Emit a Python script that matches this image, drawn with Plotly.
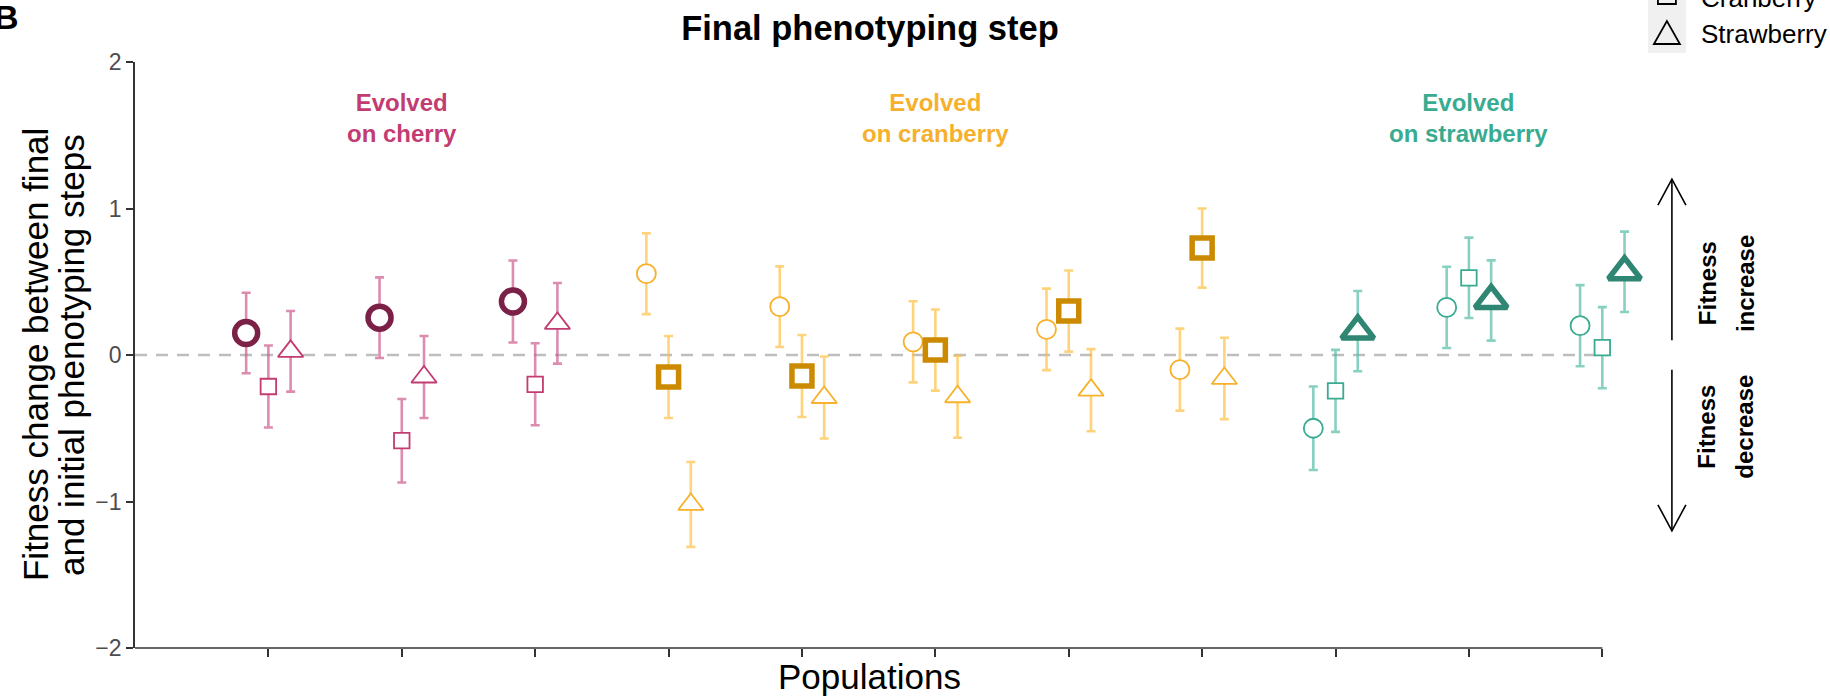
import plotly.graph_objects as go

# ---- data -------------------------------------------------------------
populations = list(range(1, 12))
evolved_on = ["Cherry"] * 3 + ["Cranberry"] * 5 + ["Strawberry"] * 3
hosts = ["Cherry", "Cranberry", "Strawberry"]

cherry_mean = [0.15, 0.255, 0.365, 0.555, 0.33, 0.09, 0.175, -0.10, -0.50, 0.325, 0.20]
cherry_se = [0.275, 0.275, 0.28, 0.276, 0.275, 0.277, 0.278, 0.28, 0.285, 0.277, 0.277]
cranberry_mean = [-0.215, -0.585, -0.20, -0.15, -0.143, 0.034, 0.30, 0.73, -0.245, 0.527, 0.05]
cranberry_se = [0.28, 0.285, 0.28, 0.28, 0.28, 0.277, 0.277, 0.27, 0.28, 0.274, 0.277]
strawberry_mean = [0.025, -0.15, 0.216, -1.02, -0.29, -0.285, -0.24, -0.16, 0.163, 0.372, 0.568]
strawberry_se = [0.275, 0.28, 0.275, 0.29, 0.28, 0.28, 0.28, 0.278, 0.274, 0.274, 0.274]

means = {"Cherry": cherry_mean, "Cranberry": cranberry_mean, "Strawberry": strawberry_mean}
ses = {"Cherry": cherry_se, "Cranberry": cranberry_se, "Strawberry": strawberry_se}

y_ticks = [-2, -1, 0, 1, 2]
group_labels = {"Cherry": "Evolved<br>on cherry",
                "Cranberry": "Evolved<br>on cranberry",
                "Strawberry": "Evolved<br>on strawberry"}
group_centre = {"Cherry": 2, "Cranberry": 6, "Strawberry": 10}

# ---- styling ----------------------------------------------------------
dodge = {"Cherry": -1 / 6, "Cranberry": 0.0, "Strawberry": 1 / 6}
symbol = {"Cherry": "circle", "Cranberry": "square", "Strawberry": "triangle-up"}
thin_size = {"Cherry": 19, "Cranberry": 15.5, "Strawberry": 22}
bold_size = {"Cherry": 23, "Cranberry": 20, "Strawberry": 28}
dark = {"Cherry": "#7B2147", "Cranberry": "#CC8A00", "Strawberry": "#2F8672"}
mid = {"Cherry": "#C23C71", "Cranberry": "#F7B12A", "Strawberry": "#38AB90"}
light = {"Cherry": "rgba(203,87,137,0.68)", "Cranberry": "rgba(255,190,60,0.68)",
         "Strawberry": "rgba(80,185,160,0.68)"}
label_col = {"Cherry": "#C23C71", "Cranberry": "#F6B02C", "Strawberry": "#38AB90"}

FONT = "Liberation Sans, Arial, Helvetica, sans-serif"
W, H = 1830, 697
X_MAX = 11.35
UNIT_X = 133.4
L, T, B = 135, 62, 49
R = W - L - UNIT_X * X_MAX
PW, PH = W - L - R, H - T - B
AXIS_COL = "#333333"


def px_x(px):
    return (px - L) / PW


def px_y(py):
    return (H - B - py) / PH


fig = go.Figure()

# one trace per (evolved group, phenotyping host)
for grp in ["Cherry", "Cranberry", "Strawberry"]:
    idx = [i for i, g in enumerate(evolved_on) if g == grp]
    for host in hosts:
        home = host == grp
        fig.add_trace(go.Scatter(
            x=[populations[i] + dodge[host] for i in idx],
            y=[means[host][i] for i in idx],
            mode="markers",
            cliponaxis=False,
            showlegend=False,
            marker=dict(
                symbol=symbol[host],
                size=bold_size[host] if home else thin_size[host],
                color="white",
                line=dict(color=dark[grp] if home else mid[grp],
                          width=5.5 if home else 1.8),
            ),
            error_y=dict(type="data", array=[ses[host][i] for i in idx],
                         color=light[grp], thickness=2.6, width=4.5),
        ))

shapes = [
    # zero reference line
    dict(type="line", xref="x", yref="y", x0=0, x1=11.05, y0=0, y1=0,
         line=dict(color="#BEBEBE", width=2.6, dash="12px,9px"), layer="below"),
    # x axis line, capped at the last population
    dict(type="line", xref="x", yref="paper", x0=0, x1=11, y0=0, y1=0,
         line=dict(color=AXIS_COL, width=1.6)),
    # legend key background
    dict(type="rect", xref="paper", yref="paper", x0=px_x(1648), x1=px_x(1686),
         y0=px_y(53), y1=px_y(-40), fillcolor="#F0F0F0", line=dict(width=0), layer="below"),
    # legend keys: square (Cranberry) and triangle (Strawberry)
    dict(type="rect", xref="paper", yref="paper", x0=px_x(1658), x1=px_x(1676),
         y0=px_y(4), y1=px_y(-14), line=dict(color="black", width=1.8)),
    dict(type="path", xref="paper", yref="paper",
         path=f"M {px_x(1654)},{px_y(44)} L {px_x(1680)},{px_y(44)} "
              f"L {px_x(1667)},{px_y(21)} Z",
         line=dict(color="black", width=1.8)),
]

# fitness increase / decrease arrows
ax_x = px_x(1672)
head_dx = 14 / PW
head_dy = 26 / 146.5
for y_from, y_to in [(0.1, 1.2), (-0.1, -1.2)]:
    sgn = 1 if y_to > 0 else -1
    shapes.append(dict(type="line", xref="paper", yref="y", x0=ax_x, x1=ax_x,
                       y0=y_from, y1=y_to, line=dict(color="black", width=1.6)))
    shapes.append(dict(type="path", xref="paper", yref="y",
                       path=f"M {ax_x - head_dx},{y_to - sgn * head_dy} L {ax_x},{y_to} "
                            f"L {ax_x + head_dx},{y_to - sgn * head_dy}",
                       line=dict(color="black", width=1.6)))

annotations = []
for grp in ["Cherry", "Cranberry", "Strawberry"]:
    annotations.append(dict(
        x=group_centre[grp], y=1.62, xref="x", yref="y", showarrow=False,
        xanchor="center", yanchor="middle",
        text=f"<b>{group_labels[grp]}</b>", align="center",
        font=dict(family=FONT, size=24, color=label_col[grp]),
    ))

# side notes, one rotated line each
for words, yv in [(("Fitness", "increase"), 0.49), (("Fitness", "decrease"), -0.49)]:
    for word, cx in zip(words, (1707, 1745)):
        annotations.append(dict(x=px_x(cx), y=yv, xref="paper", yref="y", showarrow=False,
                                xanchor="center", yanchor="middle",
                                text=f"<b>{word}</b>", textangle=-90,
                                font=dict(family=FONT, size=24, color="black")))

# axis titles
annotations.append(dict(x=px_x(870), y=px_y(676), xref="paper", yref="paper",
                        xanchor="center", yanchor="middle", showarrow=False,
                        text="Populations", font=dict(family=FONT, size=35, color="black")))
for txt, cx in [("Fitness change between final", 35), ("and initial phenotyping steps", 71)]:
    annotations.append(dict(x=px_x(cx), y=px_y(355), xref="paper", yref="paper",
                            xanchor="center", yanchor="middle", showarrow=False,
                            text=txt, textangle=-90,
                            font=dict(family=FONT, size=35, color="black")))

# legend labels
for txt, cy in [("Cranberry", -2), ("Strawberry", 34)]:
    annotations.append(dict(x=px_x(1699), y=px_y(cy), xref="paper", yref="paper",
                            xanchor="left", yanchor="middle", showarrow=False, text=txt,
                            font=dict(family=FONT, size=26, color="black")))

# panel tag
annotations.append(dict(x=px_x(-8), y=px_y(17), xref="paper", yref="paper",
                        xanchor="left", yanchor="middle",
                        showarrow=False, text="<b>B</b>",
                        font=dict(family=FONT, size=34, color="black")))

fig.update_layout(
    width=W, height=H,
    margin=dict(l=L, r=R, t=T, b=B, autoexpand=False),
    paper_bgcolor="white", plot_bgcolor="white",
    font=dict(family=FONT, color="black"),
    title=dict(text="<b>Final phenotyping step</b>", x=px_x(870), xref="paper",
               xanchor="center", y=1 - 27.6 / H, yref="container", yanchor="middle",
               font=dict(family=FONT, size=34.5, color="black")),
    xaxis=dict(range=[0, X_MAX], showgrid=False, zeroline=False, showline=False,
               ticks="outside", ticklen=8, tickwidth=1.6, tickcolor=AXIS_COL,
               tickvals=populations, showticklabels=False, automargin=False,
               fixedrange=True),
    yaxis=dict(range=[-2, 2], showgrid=False, zeroline=False, showline=True,
               linecolor=AXIS_COL, linewidth=1.6, ticks="outside", ticklen=7,
               tickwidth=1.6, tickcolor=AXIS_COL, tickvals=y_ticks,
               tickfont=dict(family=FONT, size=23, color="#4D4D4D"),
               automargin=False, fixedrange=True),
    shapes=shapes,
    annotations=annotations,
)

fig.write_html("out.html")
